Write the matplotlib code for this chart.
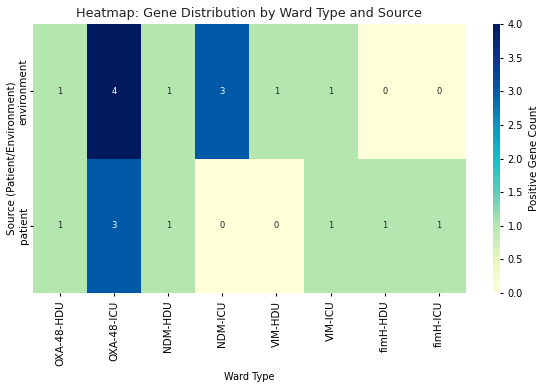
import matplotlib
matplotlib.use("Agg")
import matplotlib.pyplot as plt
import matplotlib.colors as mcolors
import seaborn as sns
import pandas as pd

columns = ["OXA-48-HDU", "OXA-48-ICU", "NDM-HDU", "NDM-ICU", "VIM-HDU", "VIM-ICU", "fimH-HDU", "fimH-ICU"]
rows = ["environment", "patient"]
environment_vals = [1, 4, 1, 3, 1, 1, 0, 0]
patient_vals = [1, 3, 1, 0, 0, 1, 1, 1]

df = pd.DataFrame([environment_vals, patient_vals], index=rows, columns=columns)

# vivid YlGnBu-like colormap, as in the reference
cmap_colors = ["#ffffd8", "#e6f6c0", "#b5e6b0", "#5ccdb8", "#14c0c8",
               "#0895c0", "#005aa8", "#0c3290", "#001a5e"]
cmap = mcolors.LinearSegmentedColormap.from_list("vivid_ylgnbu", cmap_colors)

fig = plt.figure(figsize=(5.5, 3.84), dpi=100)
ax = fig.add_axes([0.06, 0.237, 0.787, 0.7])
cax = fig.add_axes([0.896, 0.237, 0.013, 0.7])
sns.heatmap(df, ax=ax, cbar_ax=cax, cmap=cmap, vmin=0, vmax=4, annot=True, fmt="d",
            annot_kws={"fontsize": 6},
            cbar_kws={"label": "Positive Gene Count"})
ax.set_title("Heatmap: Gene Distribution by Ward Type and Source", fontsize=9.2, pad=5, color="#222222")
ax.set_xlabel("Ward Type", fontsize=7)
ax.set_ylabel("Source (Patient/Environment)", fontsize=7.5, labelpad=2)
ax.tick_params(axis="x", labelsize=7.5, rotation=90, length=2)
ax.tick_params(axis="y", labelsize=7.5, length=2, pad=1)
for lbl in ax.get_yticklabels():
    lbl.set_rotation(90)
    lbl.set_va("center")
cax.tick_params(labelsize=7, length=2)
cax.yaxis.label.set_size(7.5)
fig.savefig("out.png", dpi=100)
